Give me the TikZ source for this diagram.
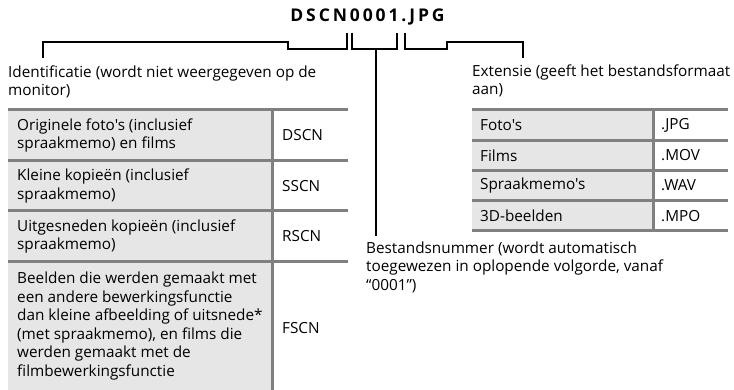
\documentclass[tikz,border=0pt]{standalone}
\usepackage{fontspec}
\setmainfont{Open Sans}[Ligatures=TeXOff]
\definecolor{rulegray}{HTML}{808080}
\definecolor{cellgray}{HTML}{E6E6E6}
\newcommand\tk{\kern2.9pt}
\begin{document}
\begin{tikzpicture}[x=1pt,y=-1pt,
  txt/.style={font=\fontsize{15.3}{18.5}\selectfont, inner sep=0pt, align=left, anchor=west},
  conn/.style={line width=2pt, black},
  tblrule/.style={line width=3pt, rulegray}]
\useasboundingbox (0,0) rectangle (734,390);

% title
\node[inner sep=0pt, font=\bfseries\fontsize{17.5}{19}\selectfont] (title) at (367.5,17)
  {D\tk S\tk C\tk N\tk 0\tk 0\tk 0\tk 1\tk .\tk J\tk P\tk G};

% bracket coordinates
\coordinate (aL) at (288,42);
\coordinate (aR) at (347,33);
\coordinate (bL) at (352,33);
\coordinate (bR) at (397,33);
\coordinate (bM) at (376,49);
\coordinate (cL) at (405,33);
\coordinate (cR) at (447,42);
\coordinate (idtop) at (43,58);
\coordinate (extop) at (523,58);
\coordinate (numend) at (376,236);

% labels
\node[txt] (ident) at (8,82) {Identificatie (wordt niet weergegeven op de\\monitor)};
\node[txt] (ext) at (472,81) {Extensie (geeft het bestandsformaat\\aan)};
\node[txt] (num) at (366,267) {Bestandsnummer (wordt automatisch\\toegewezen in oplopende volgorde, vanaf\\“0001”)};

% connectors
\draw[conn] (aR) -- (aR |- bM) -- (aL |- bM) -- (aL) -| (idtop);
\draw[conn] (bL) -- (bL |- bM) -- (bR |- bM) -- (bR);
\draw[conn] (bM) -- (numend);
\draw[conn] (cL) -- (cL |- bM) -- (cR |- bM) -- (cR) -| (extop);

% left table
\fill[cellgray] (8,110) rectangle (272,390);
\foreach \y in {110,160.5,211,262}
  \draw[tblrule] (8,\y) -- (348,\y);
\draw[tblrule] (272,110) -- (272,390);

\node[txt] (l1) at (17,135.5) {Originele foto's (inclusief\\spraakmemo) en films};
\node[txt] (l1c) at (282,135.5) {DSCN};
\node[txt] (l2) at (17,186) {Kleine kopieën (inclusief\\spraakmemo)};
\node[txt] (l2c) at (282,186) {SSCN};
\node[txt] (l3) at (17,236.5) {Uitgesneden kopieën (inclusief\\spraakmemo)};
\node[txt] (l3c) at (282,236.5) {RSCN};
\node[txt] (l4) at (17,326) {Beelden die werden gemaakt met\\een andere bewerkingsfunctie\\dan kleine afbeelding of uitsnede*\\(met spraakmemo), en films die\\werden gemaakt met de\\filmbewerkingsfunctie};
\node[txt] (l4c) at (282,328) {FSCN};

% right table
\fill[cellgray] (472,110) rectangle (653,231);
\foreach \y in {110,140.25,170.5,200.75,231}
  \draw[tblrule] (472,\y) -- (728,\y);
\draw[tblrule] (653,110) -- (653,231);

\node[txt] (r1) at (480,125.1) {Foto's};
\node[txt] (r1c) at (661,125.1) {.JPG};
\node[txt] (r2) at (480,155.4) {Films};
\node[txt] (r2c) at (661,155.4) {.MOV};
\node[txt] (r3) at (480,185.6) {Spraakmemo's};
\node[txt] (r3c) at (661,185.6) {.WAV};
\node[txt] (r4) at (480,215.9) {3D-beelden};
\node[txt] (r4c) at (661,215.9) {.MPO};
\end{tikzpicture}
\end{document}
